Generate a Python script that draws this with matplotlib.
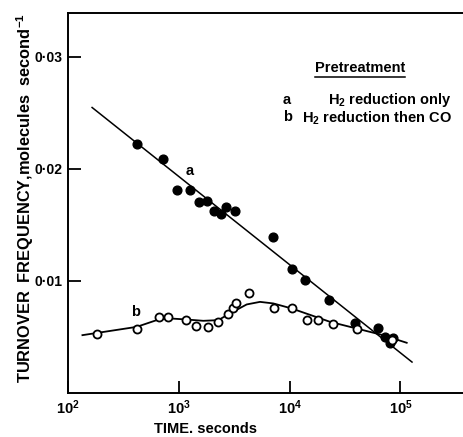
import matplotlib
matplotlib.use("Agg")
import matplotlib.pyplot as plt
from matplotlib.lines import Line2D
from matplotlib.ticker import FixedLocator, NullLocator

# =====================
# DATA
# =====================
# series a : H2 reduction only (filled circles)
time_a = [417, 716, 957, 1262, 1512, 1808, 2091, 2389, 2667, 3195,
          7127, 10450, 13770, 22810, 38920, 62370, 72620, 85180, 80540]
freq_a = [0.02224, 0.02084, 0.01814, 0.01814, 0.01701, 0.01710, 0.01627, 0.01600,
          0.01659, 0.01621, 0.01392, 0.01110, 0.01012, 0.00834, 0.00626, 0.00581,
          0.00501, 0.00490, 0.00445]

# series b : H2 reduction then CO (open circles)
time_b = [182, 417, 658, 804, 1161, 1421, 1823, 2272, 2762, 3065, 3283, 4303,
          7230, 10450, 14260, 17860, 24490, 40350, 83970]
freq_b = [0.00525, 0.00570, 0.00679, 0.00679, 0.00650, 0.00599, 0.00585, 0.00630,
          0.00703, 0.00754, 0.00799, 0.00888, 0.00754, 0.00757, 0.00647, 0.00650,
          0.00617, 0.00573, 0.00472]

# straight line through a
line_a_time = [165, 127300]
line_a_freq = [0.02547, 0.00276]

# hand-drawn curve through b
curve_b_time = [135, 417, 658, 834, 1161, 1664, 2272, 2897, 4100, 5408, 7127,
                10450, 23170, 45940, 69660, 114000]
curve_b_freq = [0.00516, 0.00590, 0.00656, 0.00665, 0.00656, 0.00644, 0.00650,
                0.00710, 0.00790, 0.00813, 0.00799, 0.00754, 0.00635, 0.00561,
                0.00516, 0.00448]

x_ticks = [1e2, 1e3, 1e4, 1e5]
x_labels = [r"$\mathbf{10^{2}}$", r"$\mathbf{10^{3}}$", r"$\mathbf{10^{4}}$", r"$\mathbf{10^{5}}$"]
y_ticks = [0.01, 0.02, 0.03]
y_labels = ["0·01", "0·02", "0·03"]

# =====================
# STYLE
# =====================
plt.rcParams["font.family"] = ["Liberation Sans", "DejaVu Sans"]
plt.rcParams["font.weight"] = "bold"
plt.rcParams["mathtext.fontset"] = "custom"
plt.rcParams["mathtext.rm"] = "Liberation Sans:bold"
plt.rcParams["mathtext.it"] = "Liberation Sans:bold"
plt.rcParams["mathtext.bf"] = "Liberation Sans:bold"
plt.rcParams["mathtext.default"] = "bf"

fig = plt.figure(figsize=(4.63, 4.37), dpi=100)
ax = fig.add_axes([68 / 463, 44 / 437, 395 / 463, 380 / 437])

ax.plot(line_a_time, line_a_freq, color="black", lw=1.1)
ax.plot(curve_b_time, curve_b_freq, color="black", lw=1.3)
ax.plot(time_a, freq_a, "o", color="black", ms=6.3, zorder=3)
ax.plot(time_b, freq_b, "o", mfc="white", mec="black", mew=1.3, ms=5.8, zorder=3)

ax.set_xscale("log")
ax.set_xlim(100, 10 ** 5.565)
ax.set_ylim(0, 0.0339)

ax.xaxis.set_major_locator(FixedLocator(x_ticks))
ax.xaxis.set_minor_locator(NullLocator())
ax.set_xticklabels(x_labels, fontsize=10.5)
ax.set_yticks(y_ticks)
ax.set_yticklabels(y_labels, fontsize=10, fontweight="bold")
ax.tick_params(direction="in", length=9, width=1.3, pad=4)

ax.spines["right"].set_visible(False)
for s in ["left", "bottom", "top"]:
    ax.spines[s].set_linewidth(1.4)

# in-plot labels
ax.text(1262, 0.0192, "a", fontsize=10.5, ha="center", va="bottom")
ax.text(410, 0.0066, "b", fontsize=10.5, ha="center", va="bottom")

# legend block
ptxt = ax.text(0.739, 0.855, "Pretreatment", transform=ax.transAxes,
               fontsize=10.5, ha="center", va="center")
ax.text(0.554, 0.771, "a", transform=ax.transAxes, fontsize=10.5, ha="center", va="center")
ax.text(0.972, 0.771, r"H$_2$ reduction only", transform=ax.transAxes,
        fontsize=10.5, ha="right", va="center")
ax.text(0.557, 0.726, "b", transform=ax.transAxes, fontsize=10.5, ha="center", va="center")
ax.text(0.972, 0.724, r"H$_2$ reduction then CO", transform=ax.transAxes,
        fontsize=10.5, ha="right", va="center")

# axis titles
fig.text(206 / 463, 1 - 429 / 437, "TIME. seconds", fontsize=10.5, ha="center", va="center")
fig.text(25 / 463, 1 - 198 / 437,
         r"TURNOVER  FREQUENCY,molecules  second$^{-1}$",
         fontsize=11.8, rotation=90, ha="center", va="center")

# underline for Pretreatment
r = fig.canvas.get_renderer()
bb = ptxt.get_window_extent(renderer=r).transformed(fig.transFigure.inverted())
fig.add_artist(Line2D([bb.x0, bb.x1], [bb.y0 - 0.004, bb.y0 - 0.004],
                      transform=fig.transFigure, color="black", lw=1.1))

fig.savefig("out.png", dpi=100)
